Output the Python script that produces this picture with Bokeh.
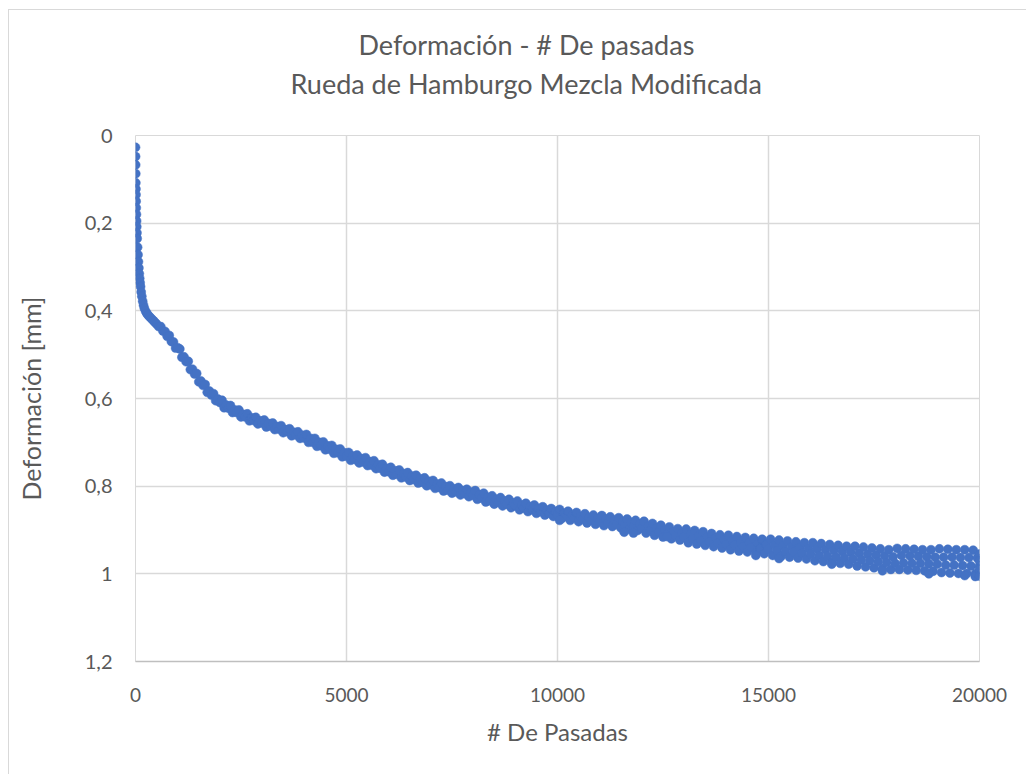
from bokeh.plotting import figure
from bokeh.models import Range1d, FixedTicker, Title, ColumnDataSource
from bokeh.embed import file_html
from bokeh.resources import INLINE

# ---- data (passes, deformation in mm) ----
passes_early = [0, 2, 4, 6, 8, 10, 12, 15, 18, 22, 26, 30, 35, 40, 50, 60, 70, 80, 90,
                100, 110, 120, 135, 150, 170, 190, 210, 240, 270, 300, 340, 380, 420,
                460, 500, 550]
defo_early = [0.027, 0.048, 0.067, 0.087, 0.108, 0.122, 0.135, 0.15, 0.165, 0.18, 0.195,
              0.208, 0.222, 0.235, 0.255, 0.272, 0.288, 0.302, 0.315, 0.326, 0.336,
              0.345, 0.357, 0.367, 0.378, 0.387, 0.394, 0.401, 0.406, 0.41, 0.414,
              0.418, 0.422, 0.426, 0.43, 0.436]

passes_main = list(range(600, 20001, 50))
defo_main = [
    0.436, 0.446, 0.447, 0.458, 0.456, 0.470, 0.471, 0.485, 0.484,
    0.487, 0.506, 0.505, 0.516, 0.515, 0.534, 0.533, 0.544, 0.543, 0.562,
    0.560, 0.570, 0.568, 0.586, 0.583, 0.592, 0.589, 0.605, 0.601, 0.609,
    0.604, 0.621, 0.615, 0.622, 0.616, 0.632, 0.626, 0.632, 0.626, 0.642,
    0.636, 0.642, 0.635, 0.651, 0.644, 0.650, 0.643, 0.658, 0.651, 0.656,
    0.649, 0.665, 0.657, 0.663, 0.656, 0.671, 0.664, 0.670, 0.662, 0.678,
    0.671, 0.676, 0.669, 0.685, 0.677, 0.683, 0.676, 0.691, 0.684, 0.690,
    0.682, 0.700, 0.691, 0.700, 0.691, 0.709, 0.700, 0.708, 0.699, 0.717,
    0.708, 0.716, 0.707, 0.725, 0.716, 0.724, 0.715, 0.733, 0.724, 0.732,
    0.723, 0.741, 0.731, 0.739, 0.729, 0.747, 0.737, 0.745, 0.735, 0.753,
    0.744, 0.752, 0.742, 0.760, 0.751, 0.759, 0.750, 0.768, 0.759, 0.767,
    0.757, 0.775, 0.765, 0.773, 0.763, 0.781, 0.771, 0.779, 0.769, 0.787,
    0.777, 0.785, 0.775, 0.793, 0.783, 0.791, 0.781, 0.799, 0.789, 0.797,
    0.787, 0.805, 0.795, 0.803, 0.793, 0.811, 0.801, 0.809, 0.799, 0.816,
    0.806, 0.813, 0.803, 0.820, 0.810, 0.817, 0.807, 0.824, 0.814, 0.821,
    0.810, 0.830, 0.819, 0.827, 0.816, 0.836, 0.825, 0.833, 0.822, 0.841,
    0.830, 0.837, 0.826, 0.845, 0.834, 0.841, 0.830, 0.849, 0.838, 0.845,
    0.834, 0.854, 0.843, 0.850, 0.839, 0.858, 0.847, 0.854, 0.843, 0.862,
    0.851, 0.858, 0.847, 0.866, 0.855, 0.862, 0.851, 0.869, 0.858, 0.865,
    0.853, 0.874, 0.862, 0.869, 0.857, 0.878, 0.866, 0.872, 0.860, 0.881,
    0.869, 0.875, 0.863, 0.884, 0.872, 0.878, 0.866, 0.887, 0.874, 0.881,
    0.867, 0.890, 0.875, 0.884, 0.870, 0.892, 0.878, 0.887, 0.872, 0.895,
    0.881, 0.889, 0.875, 0.898, 0.883, 0.892, 0.878, 0.901, 0.887, 0.896,
    0.880, 0.907, 0.891, 0.901, 0.885, 0.912, 0.896, 0.905, 0.889, 0.916,
    0.900, 0.909, 0.893, 0.920, 0.904, 0.913, 0.897, 0.923, 0.907, 0.916,
    0.898, 0.929, 0.910, 0.920, 0.901, 0.932, 0.913, 0.924, 0.904, 0.935,
    0.916, 0.927, 0.908, 0.938, 0.919, 0.930, 0.911, 0.941, 0.922, 0.933,
    0.912, 0.945, 0.925, 0.935, 0.915, 0.948, 0.927, 0.938, 0.917, 0.950,
    0.929, 0.940, 0.919, 0.952, 0.931, 0.942, 0.921, 0.954, 0.933, 0.944,
    0.921, 0.958, 0.934, 0.947, 0.923, 0.960, 0.936, 0.949, 0.925, 0.962,
    0.938, 0.951, 0.927, 0.964, 0.940, 0.953, 0.929, 0.966, 0.942, 0.955,
    0.929, 0.970, 0.943, 0.958, 0.931, 0.972, 0.945, 0.960, 0.933, 0.974,
    0.947, 0.962, 0.935, 0.976, 0.949, 0.964, 0.937, 0.978, 0.951, 0.966,
    0.937, 0.982, 0.953, 0.968, 0.939, 0.984, 0.955, 0.970, 0.941, 0.986,
    0.957, 0.972, 0.943, 0.988, 0.959, 0.974, 0.945, 0.990, 0.961, 0.976,
    0.942, 0.990, 0.958, 0.975, 0.943, 0.991, 0.959, 0.976, 0.944, 0.992,
    0.960, 0.976, 0.945, 0.993, 0.961, 0.977, 0.945, 0.994, 0.962, 0.978,
    0.943, 0.997, 0.962, 0.980, 0.944, 0.998, 0.962, 0.980, 0.945, 0.999,
    0.963, 0.981, 0.945, 0.999, 0.963, 0.982, 0.946, 1.000, 0.964, 0.982,
]

passes_extra = [10050, 11580, 11800, 12600, 14700, 15250, 16500, 17700, 18800,
                19650, 19900, 20000, 20000, 20000, 20000]
defo_extra = [0.878, 0.905, 0.907, 0.915, 0.958, 0.965, 0.978, 0.993, 1.000,
              1.004, 1.006, 0.955, 0.970, 0.990, 1.005]

x_ticks = [0, 5000, 10000, 15000, 20000]
y_ticks = [0, 0.2, 0.4, 0.6, 0.8, 1.0, 1.2]
y_tick_labels = ["0", "0,2", "0,4", "0,6", "0,8", "1", "1,2"]

title_line1 = "Deformación - # De pasadas"
title_line2 = "Rueda de Hamburgo Mezcla Modificada"
x_title = "# De Pasadas"
y_title = "Deformación [mm]"

FONT = "Lato"
TXT = "#595959"
BLUE = "#4472C4"

n = min(len(passes_main), len(defo_main))
src = ColumnDataSource(dict(
    x=passes_early + passes_main[:n] + passes_extra,
    y=defo_early + defo_main[:n] + defo_extra,
))

p = figure(width=1018, height=765,
           x_range=Range1d(0, 20000), y_range=Range1d(1.2, 0),
           output_backend="svg", toolbar_location=None,
           min_border_left=126, min_border_right=48,
           min_border_top=125, min_border_bottom=114,
           margin=(9, 0, 0, 8),
           styles={"border-left": "1px solid #D9D9D9", "border-top": "1px solid #D9D9D9"},
           background_fill_color="white", border_fill_color="white")
p.title = None
p.outline_line_color = "#D9D9D9"

p.scatter("x", "y", source=src, marker="circle", size=9,
          fill_color=BLUE, line_color=BLUE, line_width=0.5)

# stacked from the frame outward: spacer, second line, first line
p.add_layout(Title(text=" ", text_font=FONT, text_font_size="10px", standoff=18), "above")
p.add_layout(Title(text=title_line2, align="left", offset=155, text_font=FONT,
                   text_font_size="27px", text_font_style="normal",
                   text_color=TXT, standoff=8), "above")
p.add_layout(Title(text=title_line1, align="left", offset=223, text_font=FONT,
                   text_font_size="27px", text_font_style="normal",
                   text_color=TXT, standoff=0), "above")

xa = p.xaxis[0]
xa.ticker = FixedTicker(ticks=x_ticks)
xa.axis_line_color = "#BFBFBF"
xa.axis_line_width = 1.5
xa.major_tick_line_color = None
xa.minor_tick_line_color = None
xa.major_label_text_font = FONT
xa.major_label_text_font_size = "19px"
xa.major_label_text_color = TXT
xa.major_label_standoff = 20
xa.axis_label = x_title
xa.axis_label_text_font = FONT
xa.axis_label_text_font_size = "24px"
xa.axis_label_text_font_style = "normal"
xa.axis_label_text_color = TXT
xa.axis_label_standoff = 12

ya = p.yaxis[0]
ya.ticker = FixedTicker(ticks=y_ticks)
ya.major_label_overrides = {t: l for t, l in zip(y_ticks, y_tick_labels)}
ya.axis_line_color = None
ya.major_tick_line_color = None
ya.minor_tick_line_color = None
ya.major_label_text_font = FONT
ya.major_label_text_font_size = "20px"
ya.major_label_text_color = TXT
ya.major_label_standoff = 17
ya.axis_label = y_title
ya.axis_label_text_font = FONT
ya.axis_label_text_font_size = "25px"
ya.axis_label_text_font_style = "normal"
ya.axis_label_text_color = TXT
ya.axis_label_standoff = 36

p.xgrid.ticker = FixedTicker(ticks=x_ticks)
p.ygrid.ticker = FixedTicker(ticks=y_ticks)
p.xgrid.grid_line_color = "#D9D9D9"
p.ygrid.grid_line_color = "#D9D9D9"
p.xgrid.grid_line_width = 1.5
p.ygrid.grid_line_width = 1.5

open("out.html", "w").write(file_html(p, INLINE))
